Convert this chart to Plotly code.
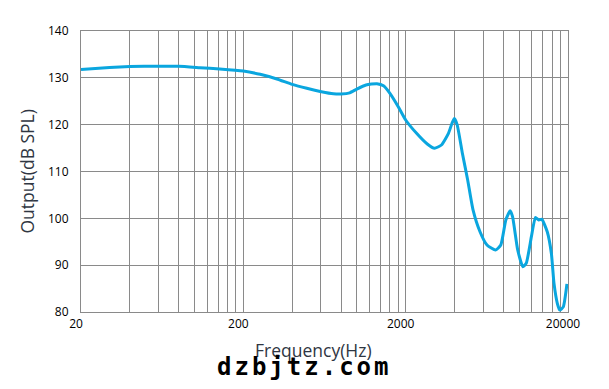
import plotly.graph_objects as go

# Frequency response
freq_hz = [20, 30, 40, 60, 80, 108, 143, 200, 254, 322, 400, 492, 605, 718, 800,
           905, 1000, 1140, 1330, 1460, 1600, 1800, 2000, 2335, 2717, 3010, 3320,
           3670, 3860, 3990, 4150, 4470, 4820, 5200, 5740, 6340, 7160, 7710, 8280,
           8800, 9110, 9800, 10540, 11060, 11900, 12600, 13220, 13800, 14900,
           15800, 16400, 17200, 17800, 18700, 19700]
output_db = [131.8, 132.2, 132.4, 132.5, 132.45, 132.17, 131.9, 131.46, 130.75,
             129.75, 128.6, 127.76, 127.04, 126.6, 126.55, 126.8, 127.6, 128.47,
             128.75, 128.3, 126.7, 123.85, 121.0, 118.15, 115.87, 114.95, 115.66,
             118.15, 120.3, 121.3, 120.0, 113.9, 108.2, 101.8, 97.14, 94.3, 93.24,
             94.3, 99.64, 101.6, 100.35, 93.24, 89.67, 90.4, 96.1, 100.2, 99.64,
             99.78, 97.14, 92.5, 86.1, 81.8, 80.4, 81.1, 86.0]

# Grid / tick positions
x_grid = [20 * k for k in range(1, 11)] + [200 * k for k in range(2, 11)] + [2000 * k for k in range(2, 11)]
x_label_vals = [20, 200, 2000, 20000]
x_ticktext = [str(v) if v in x_label_vals else "" for v in x_grid]
y_ticks = [80, 90, 100, 110, 120, 130, 140]

x_title = "Frequency(Hz)"
y_title = "Output(dB SPL)"
watermark = "dzbjtz.com"

fig = go.Figure()
fig.add_trace(go.Scatter(
    x=freq_hz, y=output_db, mode="lines",
    line=dict(color="#0aa6df", width=3, shape="spline", smoothing=0.5),
    hoverinfo="skip", showlegend=False,
))

grid_col = "#8a8a8a"
title_col = "#2f3642"
fig.update_layout(
    width=609, height=389,
    margin=dict(l=81, r=41, t=31, b=77),
    paper_bgcolor="white", plot_bgcolor="white",
    font=dict(family="Open Sans", size=12, color="black"),
    xaxis=dict(
        type="log", range=[1.30103, 4.30103],
        tickmode="array", tickvals=x_grid, ticktext=x_ticktext,
        showgrid=True, gridcolor=grid_col, gridwidth=1.2,
        showline=True, linecolor=grid_col, linewidth=1.2, mirror=True,
        ticks="", zeroline=False, ticklabelshift=-5,
        tickfont=dict(size=12, color="black"),
    ),
    yaxis=dict(
        range=[80, 140], tickmode="array", tickvals=y_ticks,
        showgrid=True, gridcolor=grid_col, gridwidth=1.2,
        showline=True, linecolor=grid_col, linewidth=1.2, mirror=True,
        ticks="", zeroline=False, ticklabelstandoff=9,
        tickfont=dict(size=12, color="black"),
    ),
    annotations=[
        dict(text=x_title, xref="paper", yref="paper", x=0.4764, y=-0.134,
             xanchor="center", yanchor="middle", showarrow=False, borderpad=0,
             font=dict(family="Open Sans", size=17.5, color=title_col)),
        dict(text=y_title, xref="paper", yref="paper", x=-0.1109, y=0.5,
             xanchor="center", yanchor="middle", showarrow=False, textangle=-90,
             font=dict(family="Open Sans", size=17.5, color=title_col)),
        dict(text='<span style="letter-spacing:3px"><b>' + watermark + "</b></span>",
             xref="paper", yref="paper",
             x=0.4590, y=-0.1970, xanchor="center", yanchor="middle",
             showarrow=False, borderpad=0,
             font=dict(family="DejaVu Sans Mono", size=24, color="black")),
    ],
)

fig.write_html("out.html")
